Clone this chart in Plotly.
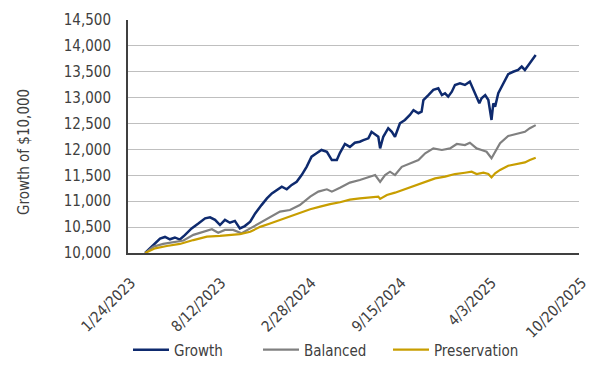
import plotly.graph_objects as go

growth_dates = ["2023-03-03","2023-03-21","2023-04-05","2023-04-16","2023-04-27","2023-05-08","2023-05-19","2023-05-30",
    "2023-06-14","2023-06-29","2023-07-14","2023-07-25","2023-08-05","2023-08-16","2023-08-27","2023-09-07","2023-09-18",
    "2023-09-29","2023-10-10","2023-10-22","2023-11-02","2023-11-16","2023-11-28","2023-12-09","2023-12-20","2023-12-31",
    "2024-01-11","2024-01-22","2024-02-02","2024-02-13","2024-02-24","2024-03-06","2024-03-17","2024-03-28","2024-04-09",
    "2024-04-20","2024-05-01","2024-05-08","2024-05-19","2024-05-30","2024-06-10","2024-06-21","2024-06-29","2024-07-10",
    "2024-07-17","2024-07-25","2024-08-01","2024-08-05","2024-08-12","2024-08-23","2024-08-31","2024-09-07","2024-09-18",
    "2024-09-29","2024-10-10","2024-10-18","2024-10-29","2024-11-05","2024-11-09","2024-11-20","2024-12-01","2024-12-12",
    "2024-12-20","2024-12-27","2025-01-03","2025-01-11","2025-01-18","2025-01-29","2025-02-09","2025-02-20","2025-02-28",
    "2025-03-07","2025-03-13","2025-03-18","2025-03-26","2025-04-02","2025-04-06","2025-04-09","2025-04-13","2025-04-17",
    "2025-04-24","2025-05-05","2025-05-16","2025-05-27","2025-06-07","2025-06-15","2025-06-22","2025-06-30","2025-07-07",
    "2025-07-16"]
growth = [10000,10150,10280,10310,10265,10300,10260,10345,10475,10570,10670,10690,10640,10540,10640,10585,10620,
    10475,10520,10605,10765,10925,11055,11150,11215,11280,11230,11315,11375,11505,11665,11860,11925,11990,11955,
    11795,11795,11935,12105,12050,12130,12150,12180,12215,12340,12280,12245,12020,12245,12410,12340,12245,12505,
    12570,12665,12760,12700,12730,12955,13050,13150,13180,13050,13085,13020,13115,13245,13275,13245,13310,13150,
    13020,12890,12990,13050,12955,12700,12570,12890,12825,13085,13275,13455,13500,13535,13600,13535,13630,13725,
    13825]

balanced_dates = ["2023-03-03","2023-03-21","2023-04-12","2023-05-04","2023-05-27","2023-06-18","2023-07-10","2023-07-29",
    "2023-08-12","2023-08-27","2023-09-14","2023-10-03","2023-10-22","2023-11-13","2023-12-05","2023-12-27","2024-01-18",
    "2024-02-09","2024-03-03","2024-03-21","2024-04-09","2024-04-20","2024-05-08","2024-05-30","2024-06-21","2024-07-14",
    "2024-07-25","2024-08-05","2024-08-16","2024-08-27","2024-09-07","2024-09-22","2024-10-10","2024-10-29","2024-11-13",
    "2024-12-01","2024-12-20","2025-01-07","2025-01-22","2025-02-09","2025-02-20","2025-03-07","2025-03-18","2025-03-29",
    "2025-04-09","2025-04-17","2025-04-28","2025-05-16","2025-06-04","2025-06-22","2025-07-03","2025-07-16"]
balanced = [10000,10120,10175,10200,10240,10350,10410,10460,10390,10445,10445,10380,10475,10585,10700,10800,10830,
    10925,11090,11185,11230,11185,11260,11360,11410,11475,11505,11375,11505,11570,11505,11665,11730,11795,11925,
    12020,11990,12020,12105,12085,12130,12020,11990,11955,11830,11955,12120,12260,12300,12340,12410,12470]

preservation_dates = ["2023-03-03","2023-03-25","2023-04-20","2023-05-19","2023-06-18","2023-07-18","2023-08-16",
    "2023-09-07","2023-09-29","2023-10-22","2023-11-13","2023-12-05","2023-12-27","2024-01-18","2024-02-09","2024-03-03",
    "2024-03-25","2024-04-16","2024-05-08","2024-05-30","2024-06-21","2024-07-14","2024-08-01","2024-08-05","2024-08-20",
    "2024-09-07","2024-09-29","2024-10-21","2024-11-13","2024-12-05","2024-12-27","2025-01-18","2025-02-09","2025-02-24",
    "2025-03-07","2025-03-22","2025-04-02","2025-04-09","2025-04-17","2025-04-28","2025-05-16","2025-06-04","2025-06-22",
    "2025-07-03","2025-07-16"]
preservation = [10000,10090,10135,10175,10250,10315,10330,10345,10365,10410,10505,10570,10640,10700,10765,10845,
    10895,10945,10980,11030,11055,11075,11090,11045,11120,11165,11230,11295,11375,11440,11475,11525,11550,11570,
    11525,11550,11525,11460,11540,11605,11685,11720,11750,11795,11840]

tick_dates = ["2023-01-24","2023-08-12","2024-02-28","2024-09-15","2025-04-03","2025-10-20"]
tick_labels = ["1/24/2023","8/12/2023","2/28/2024","9/15/2024","4/3/2025","10/20/2025"]
y_ticks = list(range(10000, 14501, 500))
y_title = "Growth of $10,000"

font = "DejaVu Sans Condensed, Noto Sans, sans-serif"
txt = "#404040"
fig = go.Figure()
fig.add_trace(go.Scatter(x=growth_dates, y=growth, mode="lines", name="Growth",
                         line=dict(color="#0E2A6E", width=2.5)))
fig.add_trace(go.Scatter(x=balanced_dates, y=balanced, mode="lines", name="Balanced",
                         line=dict(color="#808080", width=2.2)))
fig.add_trace(go.Scatter(x=preservation_dates, y=preservation, mode="lines", name="Preservation",
                         line=dict(color="#C89E00", width=2.2)))

fig.add_annotation(text=y_title, xref="paper", yref="paper", x=-0.232, y=0.435,
                   xanchor="center", yanchor="middle", textangle=-90, showarrow=False,
                   font=dict(size=15, color=txt, family=font))

fig.update_layout(
    width=614, height=374,
    margin=dict(l=128, r=35, t=20, b=121, autoexpand=False),
    paper_bgcolor="white", plot_bgcolor="white",
    font=dict(family=font, size=15, color=txt),
    showlegend=True,
    legend=dict(orientation="h", x=0.0, xanchor="left", y=-0.416, yanchor="middle",
                font=dict(size=15, color=txt), traceorder="normal", itemwidth=36,
                entrywidth=79, entrywidthmode="pixels"),
    xaxis=dict(type="date", range=["2023-01-24", "2025-10-20"], tickmode="array",
               tickvals=tick_dates, ticktext=tick_labels, tickangle=-45,
               showgrid=False, showline=True, linecolor="#404040", linewidth=2,
               ticks="", zeroline=False, ticklabelstandoff=13, ticklabelshift=3,
               tickfont=dict(size=15, color=txt)),
    yaxis=dict(range=[10000, 14500], tickmode="array", tickvals=y_ticks,
               tickformat=",d", showgrid=True, gridcolor="#BFBFBF", gridwidth=1.2,
               showline=True, linecolor="#404040", linewidth=2, ticks="", zeroline=False,
               ticklabelstandoff=12,
               tickfont=dict(size=15, color=txt)),
)
fig.write_html("out.html", config={"displayModeBar": False},
               post_script="document.body.style.margin='0px';")
